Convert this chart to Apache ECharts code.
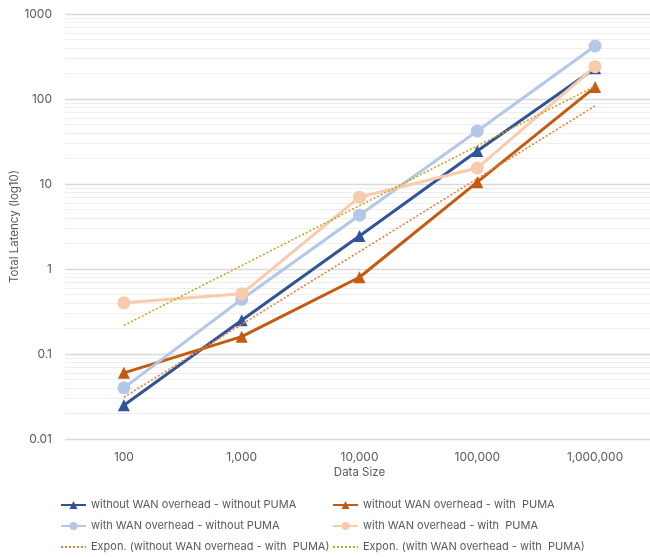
<!DOCTYPE html>
<html>
<head>
<meta charset="utf-8">
<script src="https://cdn.jsdelivr.net/npm/echarts@6/dist/echarts.min.js"></script>
<style>
  html, body { margin: 0; padding: 0; background: #ffffff; }
  #chart { width: 650px; height: 557px; }
</style>
</head>
<body>
<div id="chart"></div>
<script>
// Data sizes on the horizontal axis
const categories = ['100', '1,000', '10,000', '100,000', '1,000,000'];

// Total latency per data size
const noWanNoPuma = [0.025, 0.25, 2.45, 24.5, 230];
const noWanPuma = [0.06, 0.16, 0.8, 10.5, 138];
const wanNoPuma = [0.04, 0.44, 4.3, 42, 420];
const wanPuma = [0.4, 0.51, 7.0, 15.4, 240];

// Exponential trendline end points (first and last data size)
const trendNoWanPuma = [0.031, 83];
const trendWanPuma = [0.217, 142];

// Decades of the log axis and the minor steps inside each decade
const decades = [0.01, 0.1, 1, 10, 100];
const minorSteps = [2, 3, 4, 5, 6, 7, 8, 9];

const names = {
  a: 'without WAN overhead - without PUMA',
  b: 'without WAN overhead - with  PUMA',
  c: 'with WAN overhead - without PUMA',
  d: 'with WAN overhead - with  PUMA',
  e: 'Expon. (without WAN overhead - with  PUMA)',
  f: 'Expon. (with WAN overhead - with  PUMA)'
};

const FONT = 'Inter';
const TEXT = '#595959';

const minorLines = [];
decades.forEach(d => minorSteps.forEach(s => minorLines.push({ yAxis: Number((d * s).toPrecision(2)) })));

function trendData(ends) {
  return [[categories[0], ends[0]], [categories[categories.length - 1], ends[1]]];
}

function lineSeries(name, data, color, symbol, size) {
  return {
    name: name,
    type: 'line',
    data: data,
    symbol: symbol,
    symbolSize: size,
    lineStyle: { color: color, width: 3 },
    itemStyle: { color: color },
    z: 3
  };
}

function trendSeries(name, ends, color) {
  return {
    name: name,
    type: 'line',
    data: trendData(ends),
    symbol: 'none',
    lineStyle: { color: color, width: 1.6, type: [2, 2] },
    itemStyle: { color: color },
    z: 4
  };
}

// Trendline entries show only their dotted line, no marker
function trendEntry(name) {
  return { name: name, itemStyle: { opacity: 0 } };
}

function legendColumn(left, items) {
  return {
    left: left, top: 498, orient: 'vertical', itemGap: 7, padding: 0,
    height: 60,
    itemWidth: 25, itemHeight: 10,
    textStyle: { fontFamily: FONT, fontSize: 11, color: TEXT, lineHeight: 14 },
    data: items
  };
}

const chart = echarts.init(document.getElementById('chart'), null, { renderer: 'canvas' });

chart.setOption({
  animation: false,
  backgroundColor: '#ffffff',
  textStyle: { fontFamily: FONT, color: TEXT },
  grid: { left: 65, right: -4, top: 14, bottom: 118, containLabel: false, outerBoundsMode: 'none' },
  xAxis: {
    type: 'category',
    data: categories,
    boundaryGap: true,
    name: 'Data Size',
    nameLocation: 'middle',
    nameGap: 28,
    nameMoveOverlap: false,
    nameTextStyle: { fontFamily: FONT, fontSize: 11.5, color: TEXT },
    axisLine: { show: false },
    axisTick: { show: false },
    axisLabel: { fontFamily: FONT, fontSize: 12, color: TEXT, margin: 12 },
    splitLine: { show: false }
  },
  yAxis: {
    type: 'log',
    logBase: 10,
    min: 0.01,
    max: 1000,
    name: 'Total Latency (log10)',
    nameLocation: 'middle',
    nameGap: 44,
    nameMoveOverlap: false,
    nameTextStyle: { fontFamily: FONT, fontSize: 11.5, color: TEXT },
    axisLine: { show: false },
    axisTick: { show: false },
    axisLabel: {
      fontFamily: FONT, fontSize: 12, color: TEXT, margin: 13,
      formatter: v => String(Number(v.toPrecision(1)))
    },
    splitLine: { show: true, lineStyle: { color: '#d9d9d9', width: 1.3 } }
  },
  legend: [
    legendColumn(60, [names.a, names.c, trendEntry(names.e)]),
    legendColumn(332, [names.b, names.d, trendEntry(names.f)])
  ],
  series: [
    {
      name: 'minor-grid',
      type: 'line',
      data: [],
      silent: true,
      z: 0,
      markLine: {
        silent: true,
        z: 0,
        symbol: 'none',
        label: { show: false },
        lineStyle: { color: '#eeeeee', width: 1, type: 'solid' },
        data: minorLines
      }
    },
    lineSeries(names.a, noWanNoPuma, '#2f5597', 'triangle', 12),
    lineSeries(names.b, noWanPuma, '#c55a11', 'triangle', 12),
    lineSeries(names.c, wanNoPuma, '#b4c7e7', 'circle', 13),
    lineSeries(names.d, wanPuma, '#f8cbad', 'circle', 13),
    trendSeries(names.e, trendNoWanPuma, '#ed7d31'),
    trendSeries(names.f, trendWanPuma, '#c9a227')
  ]
});
</script>
</body>
</html>
